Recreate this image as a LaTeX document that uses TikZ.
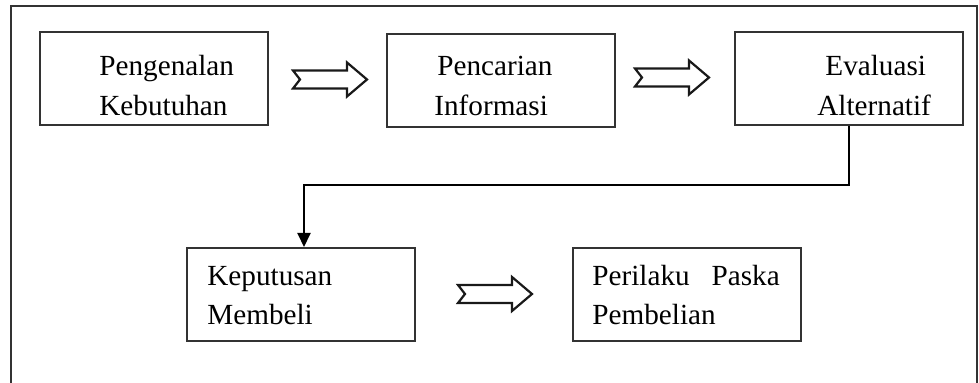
\documentclass[tikz,border=0pt]{standalone}
\usepackage{fontspec}
\setmainfont{Liberation Serif}
\usetikzlibrary{arrows.meta}
\begin{document}
\begin{tikzpicture}[x=0.5pt,y=-0.5pt,
  frame/.style={draw=black!80,line width=1pt},
  stepbox/.style={draw=black!80,line width=1pt,rectangle,inner sep=0pt,
    minimum width=114pt,minimum height=46.5pt},
  lbl/.style={inner sep=0pt,anchor=base west,font=\fontsize{14.6pt}{17pt}\selectfont,text=black},
  conn/.style={draw=black,line width=1pt,-{Triangle[length=7pt,width=6.5pt]}},
  barrow/.pic={\draw[black!90,line width=1.1pt,line join=miter]
     (0,-9) -- (54,-9) -- (54,-17) -- (74,0) -- (54,17) -- (54,9) -- (0,9) -- (7,0) -- cycle;}
]
\useasboundingbox (0,0) rectangle (979,383);
% outer frame (open at bottom)
\draw[frame] (11,383) -- (11,6) -- (977,6) -- (977,383);
% boxes
\node[stepbox] (b1) at (154,78.5) {};
\node[stepbox] (b2) at (500.5,81) {};
\node[stepbox] (b3) at (848.5,78.5) {};
\node[stepbox] (b4) at (300.5,294.5) {};
\node[stepbox] (b5) at (686.5,294.5) {};
% texts
\node[lbl] (t1a) at (99,75.5) {Pengenalan};
\node[lbl] (t1b) at (99,116) {Kebutuhan};
\node[lbl] (t2a) at (437,75.5) {Pencarian};
\node[lbl] (t2b) at (434,116) {Informasi};
\node[lbl] (t3a) at (825,75.5) {Evaluasi};
\node[lbl] (t3b) at (817,116) {Alternatif};
\node[lbl] (t4a) at (207,286) {Keputusan};
\node[lbl] (t4b) at (207,325) {Membeli};
\node[lbl] (t5a) at (592,286) {Perilaku\hspace{0.75em}Paska};
\node[lbl] (t5b) at (592,325) {Pembelian};
% block arrows
\coordinate (a1) at (293,79.5);
\coordinate (a2) at (635,77.5);
\coordinate (a3) at (458,294);
\pic at (a1) {barrow};
\pic at (a2) {barrow};
\pic at (a3) {barrow};
% connector
\coordinate (turn) at (b3.south |- 0,185);
\coordinate (drop) at (304,185);
\draw[conn] (b3.south) -- (turn) -- (drop) -- (drop |- b4.north);
\end{tikzpicture}
\end{document}
